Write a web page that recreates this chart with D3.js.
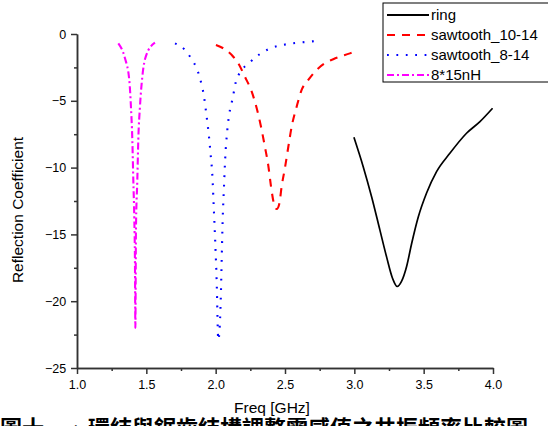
<!DOCTYPE html>
<html>
<head>
<meta charset="utf-8">
<title>Reflection Coefficient</title>
<style>
  body { margin: 0; background: #fff; }
  svg { display: block; }
</style>
</head>
<body>
<svg width="548" height="426"></svg>
<script src="https://d3js.org/d3.v7.min.js"></script>
<script>
// values: [GHz, coefficient]
const ringData = [
  [2.997, -7.73], [3.064, -9.93], [3.125, -12.2], [3.185, -14.7], [3.233, -16.7],
  [3.276, -18.3], [3.309, -18.9], [3.341, -18.5], [3.377, -17.4], [3.413, -15.7],
  [3.461, -13.7], [3.521, -11.9], [3.593, -10.3], [3.689, -8.93], [3.809, -7.43],
  [3.906, -6.56], [3.997, -5.56]
];
const saw1014Data = [
  [2.002, -0.82], [2.055, -1.07], [2.127, -1.70], [2.163, -2.19], [2.211, -3.20],
  [2.260, -4.32], [2.296, -5.56], [2.327, -6.94], [2.355, -8.44], [2.379, -9.81],
  [2.399, -11.4], [2.420, -12.7], [2.440, -13.1], [2.459, -12.7], [2.476, -11.4],
  [2.500, -10.0], [2.524, -8.44], [2.548, -6.94], [2.584, -5.44], [2.620, -4.19],
  [2.668, -3.44], [2.728, -2.69], [2.788, -2.19], [2.848, -1.89], [2.968, -1.45],
  [2.995, -1.35]
];
const saw814Data = [
  [1.707, -0.70], [1.779, -1.20], [1.827, -1.89], [1.863, -2.57], [1.887, -3.32],
  [1.916, -4.69], [1.935, -6.19], [1.952, -7.69], [1.964, -9.06], [1.975, -10.4],
  [1.988, -13.4], [1.997, -15.6], [2.007, -18.4], [2.019, -22.9], [2.036, -20.1],
  [2.043, -17.1], [2.050, -14.1], [2.060, -11.4], [2.069, -9.28], [2.084, -7.19],
  [2.103, -5.69], [2.120, -4.94], [2.146, -3.57], [2.180, -2.82], [2.247, -2.12],
  [2.319, -1.50], [2.384, -1.12], [2.456, -0.88], [2.523, -0.75], [2.596, -0.65],
  [2.668, -0.58], [2.733, -0.52]
];
const nh15Data = [
  [1.298, -0.70], [1.346, -1.82], [1.377, -3.44], [1.389, -5.44], [1.399, -7.93],
  [1.406, -10.9], [1.413, -13.7], [1.418, -17.1], [1.421, -22.0], [1.425, -14.7],
  [1.435, -10.9], [1.442, -7.93], [1.454, -5.44], [1.471, -3.2], [1.497, -1.65],
  [1.562, -0.65]
];

const seriesNames = ["ring", "sawtooth_10-14", "sawtooth_8-14", "8*15nH"];
const seriesColors = ["#000000", "#ff0000", "#0000ff", "#ff00ff"];
const seriesDash = [null, "8,7", "1.8,7.6", "7,3,2,3"];
const seriesData = [ringData, saw1014Data, saw814Data, nh15Data];

const xTicks = [1.0, 1.5, 2.0, 2.5, 3.0, 3.5, 4.0];
const yTicks = [0, -5, -10, -15, -20, -25];
const caption = "圖十一、環結與鋸齒結構調整電感值之共振頻率比較圖";

const svg = d3.select("svg");
const font = "Liberation Sans, Arial, sans-serif";

const x = d3.scaleLinear().domain([1, 4]).range([77, 493]);
const y = d3.scaleLinear().domain([0, -25]).range([34, 368]);

// axes
const axisColor = "#333";
const xAxis = svg.append("g").attr("transform", "translate(0,368)")
  .call(d3.axisBottom(x).tickValues(xTicks).tickFormat(d3.format(".1f")).tickSize(6).tickSizeOuter(0));
const xMinor = svg.append("g").attr("transform", "translate(0,368)")
  .call(d3.axisBottom(x).tickValues([1.25, 1.75, 2.25, 2.75, 3.25, 3.75]).tickFormat("").tickSize(3).tickSizeOuter(0));
const yAxis = svg.append("g").attr("transform", "translate(77,0)")
  .call(d3.axisLeft(y).tickValues(yTicks).tickSize(6).tickSizeOuter(0));
const yMinor = svg.append("g").attr("transform", "translate(77,0)")
  .call(d3.axisLeft(y).tickValues([-2.5, -7.5, -12.5, -17.5, -22.5]).tickFormat("").tickSize(3).tickSizeOuter(0));

[xAxis, xMinor, yAxis, yMinor].forEach(g => {
  g.selectAll("path, line").attr("stroke", axisColor).attr("stroke-width", 1.5);
  g.selectAll("text").attr("font-family", font).attr("font-size", 12.5).attr("fill", "#000");
});
xAxis.selectAll("text").attr("dy", "0.95em");
yAxis.selectAll("text").attr("dx", "-0.15em");

// curves
const line = d3.line()
  .x(d => x(d[0]))
  .y(d => y(d[1]))
  .curve(d3.curveMonotoneX);

svg.append("g").selectAll("path")
  .data(seriesData)
  .join("path")
    .attr("d", line)
    .attr("fill", "none")
    .attr("stroke", (d, i) => seriesColors[i])
    .attr("stroke-width", (d, i) => i == 0 ? 1.7 : 2.1)
    .attr("stroke-dasharray", (d, i) => seriesDash[i]);

// axis titles
svg.append("text")
  .attr("x", 272).attr("y", 413)
  .attr("text-anchor", "middle")
  .attr("font-family", font).attr("font-size", 15.5)
  .text("Freq [GHz]");

svg.append("text")
  .attr("transform", "translate(23,210) rotate(-90)")
  .attr("text-anchor", "middle")
  .attr("font-family", font).attr("font-size", 15.5)
  .text("Reflection Coefficient");

// legend
const legend = svg.append("g");
legend.append("rect")
  .attr("x", 383).attr("y", 3).attr("width", 180).attr("height", 79)
  .attr("fill", "#fff").attr("stroke", "#000").attr("stroke-width", 1);
const rows = legend.selectAll("g.row")
  .data(seriesNames)
  .join("g")
    .attr("class", "row")
    .attr("transform", (d, i) => `translate(0,${15 + i * 20})`);
rows.append("line")
  .attr("x1", 387).attr("x2", 429)
  .attr("stroke", (d, i) => seriesColors[i])
  .attr("stroke-width", 2)
  .attr("stroke-dasharray", (d, i) => seriesDash[i]);
rows.append("text")
  .attr("x", 431).attr("y", 5)
  .attr("font-family", font).attr("font-size", 15)
  .text(d => d);

// caption, cut by the bottom edge
svg.append("text")
  .attr("x", 0).attr("y", 436)
  .attr("font-family", "Noto Sans CJK TC, sans-serif")
  .attr("font-weight", "bold")
  .attr("font-size", 22)
  .text(caption);
</script>
</body>
</html>
